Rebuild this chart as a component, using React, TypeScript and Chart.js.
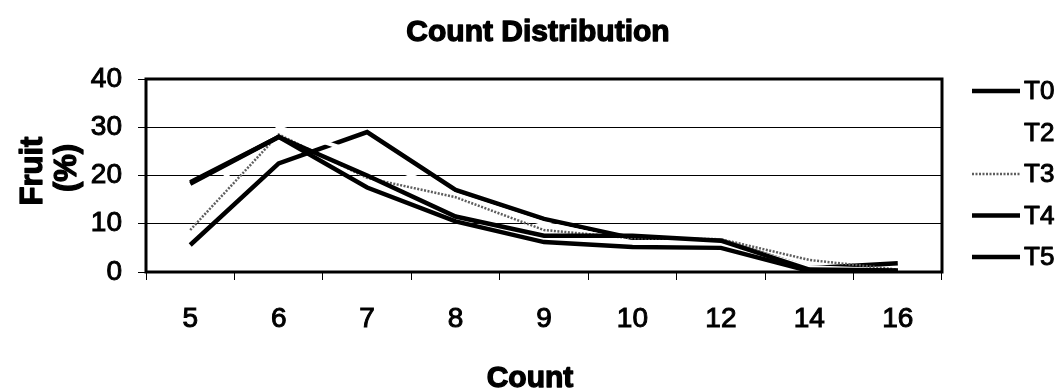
import { useEffect, useRef } from "react";
import { Chart, registerables } from "chart.js";

Chart.register(...registerables);

// Fruit count classes along the x axis
const counts = ["5", "6", "7", "8", "9", "10", "12", "14", "16"];

// Share of fruit (%) per count class for each treatment
const t0 = [5.6, 22.5, 29, 17, 11, 7, 6.5, 0.8, 1.8];
const t2 = [13, 30, 24, 16, 10, 6.2, 6.2, 1, 0.3];
const t3 = [8.7, 28.5, 19.5, 15.5, 8.7, 7, 6.8, 2.5, 0.5];
const t4 = [18.6, 28, 20, 11.5, 7.5, 7.5, 6.5, 0.5, 0.3];
const t5 = [18.3, 28, 17.5, 10.5, 6.2, 5.2, 5, 0.2, 0.2];

const seriesNames = ["T0", "T2", "T3", "T4", "T5"];
const seriesValues = [t0, t2, t3, t4, t5];

// y axis range and step
const yMin = 0;
const yMax = 40;
const yStep = 10;

const FONT = '"Liberation Sans", Arial, sans-serif';

type LineStyle = { color: string; width: number; dash: number[] };
const styles: LineStyle[] = [
  { color: "#000000", width: 4.5, dash: [] },
  { color: "#ffffff", width: 4, dash: [] },
  { color: "#5e5e5e", width: 2.5, dash: [2, 1.5] },
  { color: "#000000", width: 4.5, dash: [] },
  { color: "#000000", width: 4.5, dash: [] },
];

// fills text and traces its outline so the glyphs read heavier
function heavyText(ctx: CanvasRenderingContext2D, text: string, x: number, y: number, w: number) {
  ctx.lineWidth = w;
  ctx.strokeStyle = "#000";
  ctx.lineJoin = "round";
  ctx.strokeText(text, x, y);
  ctx.fillText(text, x, y);
}

const decorPlugin = {
  id: "decor",
  afterDraw(chart: any) {
    const { ctx, chartArea } = chart;
    const { left, right, top, bottom } = chartArea;
    ctx.save();

    // plot frame
    ctx.strokeStyle = "#000";
    ctx.lineWidth = 3;
    ctx.setLineDash([]);
    ctx.strokeRect(left, top, right - left, bottom - top);

    ctx.fillStyle = "#000";

    // title
    ctx.font = `bold 30px ${FONT}`;
    ctx.textAlign = "center";
    ctx.textBaseline = "alphabetic";
    heavyText(ctx, "Count Distribution", 538, 41, 1.3);

    // x axis title
    heavyText(ctx, "Count", 530, 387, 1.3);

    // y axis title, two rotated lines
    ctx.font = `bold 31px ${FONT}`;
    ctx.save();
    ctx.translate(42, 171);
    ctx.rotate(-Math.PI / 2);
    heavyText(ctx, "Fruit", 0, 0, 1.3);
    ctx.restore();
    ctx.save();
    ctx.translate(76, 168);
    ctx.rotate(-Math.PI / 2);
    heavyText(ctx, "(%)", 0, 0, 1.3);
    ctx.restore();

    // legend
    const legendX0 = 972;
    const legendX1 = 1020;
    const legendY0 = 91;
    const legendGap = 41.5;
    ctx.font = `26px ${FONT}`;
    ctx.textAlign = "left";
    ctx.textBaseline = "middle";
    seriesNames.forEach((name, i) => {
      const y = legendY0 + i * legendGap;
      const st = styles[i];
      ctx.beginPath();
      ctx.strokeStyle = st.color;
      ctx.lineWidth = st.width;
      ctx.setLineDash(st.dash);
      ctx.moveTo(legendX0, y);
      ctx.lineTo(legendX1, y);
      ctx.stroke();
      ctx.setLineDash([]);
      ctx.fillStyle = "#000";
      heavyText(ctx, name, 1024, y + 1, 1);
    });

    ctx.restore();
  },
};

export default function App() {
  const canvasRef = useRef<HTMLCanvasElement | null>(null);

  useEffect(() => {
    const canvas = canvasRef.current;
    if (!canvas) return;

    const chart = new Chart(canvas, {
      type: "line",
      data: {
        labels: counts,
        datasets: seriesValues.map((vals, i) => ({
          label: seriesNames[i],
          data: vals,
          borderColor: styles[i].color,
          borderWidth: styles[i].width,
          borderDash: styles[i].dash,
          pointRadius: 0,
          tension: 0,
          fill: false,
          borderJoinStyle: "miter" as const,
          order: seriesNames.length - i,
        })),
      },
      options: {
        responsive: false,
        animation: false,
        devicePixelRatio: 1,
        layout: { padding: { top: 79, right: 121, left: 0, bottom: 0 } },
        plugins: {
          legend: { display: false },
          title: { display: false },
          tooltip: { enabled: false },
        },
        scales: {
          x: {
            type: "category",
            offset: true,
            afterFit: (s: any) => {
              s.height = 119;
            },
            grid: {
              offset: true,
              drawOnChartArea: false,
              drawTicks: true,
              tickLength: 8,
              color: "#000",
              lineWidth: 1,
            },
            border: { display: false },
            ticks: {
              color: "#000",
              font: { family: FONT, size: 28 },
              padding: 22,
              maxRotation: 0,
              textStrokeColor: "#000",
              textStrokeWidth: 1,
            },
          },
          y: {
            min: yMin,
            max: yMax,
            afterFit: (s: any) => {
              s.width = 146;
            },
            grid: {
              color: "#000",
              lineWidth: 1,
              drawTicks: true,
              tickLength: 8,
            },
            border: { display: false },
            ticks: {
              stepSize: yStep,
              color: "#000",
              font: { family: FONT, size: 28 },
              padding: 16,
              textStrokeColor: "#000",
              textStrokeWidth: 1,
            },
          },
        },
      },
      plugins: [decorPlugin],
    });

    return () => chart.destroy();
  }, []);

  return (
    <div style={{ position: "fixed", left: 0, top: 0, width: 1063, height: 391, background: "#fff" }}>
      <canvas ref={canvasRef} width={1063} height={391} style={{ display: "block" }} />
    </div>
  );
}
